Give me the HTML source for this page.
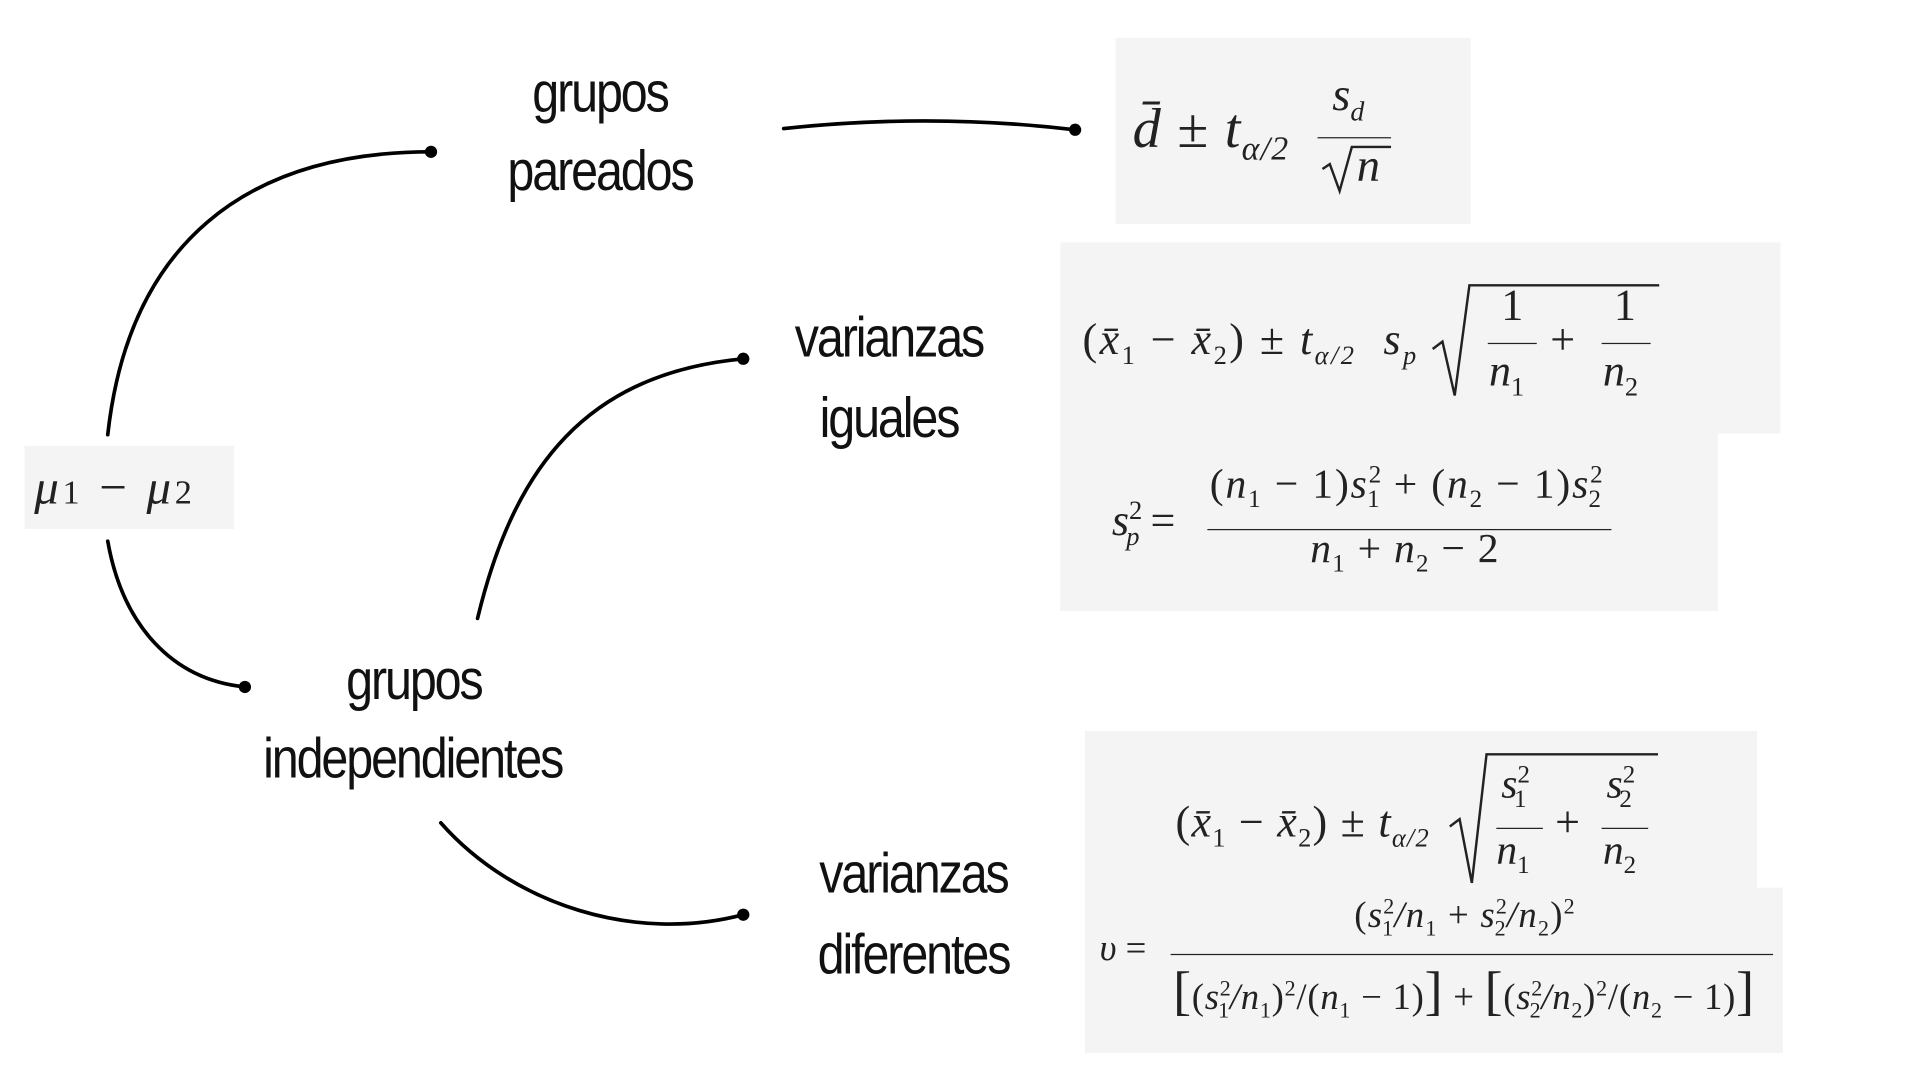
<!DOCTYPE html>
<html><head><meta charset="utf-8"><style>
html,body{margin:0;padding:0;background:#fff;overflow:hidden}
#w{position:absolute;left:0;top:0;width:1568px;height:882px;transform:scale(1.2245);transform-origin:0 0}
.b{position:absolute;background:#f4f4f4}
.t{position:absolute;font-family:"Liberation Sans",sans-serif;font-size:46px;color:#111;transform:scaleX(0.86);transform-origin:center;text-align:center;white-space:nowrap;letter-spacing:-2px}
.m{position:absolute;font-family:"Liberation Serif",serif;font-style:italic;color:#222;white-space:nowrap}
.r{font-style:normal}
.fr{position:absolute;border-top:1.5px solid #222}
sub,sup{font-size:60%}
</style></head><body><div id="w">
<div class="b" style="left:20px;top:364px;width:171px;height:68px"></div>
<div class="b" style="left:911px;top:31px;width:290px;height:152px"></div>
<div class="b" style="left:866px;top:198px;width:588px;height:156px"></div>
<div class="b" style="left:866px;top:354px;width:537px;height:145px"></div>
<div class="b" style="left:886px;top:597px;width:549px;height:128px"></div>
<div class="b" style="left:886px;top:725px;width:570px;height:135px"></div>

<svg style="position:absolute;left:0;top:0" width="1568" height="882">
<g fill="none" stroke="#000" stroke-width="3" stroke-linecap="round">
<path d="M88,355 C105,200 200,124 352,124"/>
<path d="M88,442 C100,510 140,555 200,561"/>
<path d="M640,105 Q760,92 878,106"/>
<path d="M390,505 C420,380 480,305 607,293"/>
<path d="M360,672 C420,740 520,770 607,747"/>
</g>
<g fill="#000"><circle cx="352" cy="124" r="5"/><circle cx="200" cy="561" r="5"/><circle cx="878" cy="106" r="5"/><circle cx="607" cy="293" r="5"/><circle cx="607" cy="747" r="5"/></g>
<path d="M1170,285 l8,-6 l10,44 l12,-90 h155" fill="none" stroke="#222" stroke-width="2"/>
<path d="M1184,675 l8,-6 l10,52 l12,-105 h140" fill="none" stroke="#222" stroke-width="2"/>
<path d="M1080,138 l6,-4 l8,22 l10,-36 h32" fill="none" stroke="#222" stroke-width="2"/>
</svg>

<div class="t" style="left:390px;top:48px;width:200px">grupos</div>
<div class="t" style="left:390px;top:112px;width:200px">pareados</div>
<div class="t" style="left:626px;top:248px;width:200px">varianzas</div>
<div class="t" style="left:626px;top:314px;width:200px">iguales</div>
<div class="t" style="left:238px;top:528px;width:200px">grupos</div>
<div class="t" style="left:187px;top:592px;width:300px">independientes</div>
<div class="t" style="left:646px;top:686px;width:200px">varianzas</div>
<div class="t" style="left:646px;top:752px;width:200px">diferentes</div>

<div class="m" style="left:28px;top:374px;font-size:40px;letter-spacing:3px">μ<span class="r" style="font-size:28px">1</span> <span class="r">−</span> μ<span class="r" style="font-size:28px">2</span></div>

<div class="m" style="left:925px;top:78px;font-size:46px;letter-spacing:1px">d̄ <span class="r">±</span> t<sub>α/2</sub></div>
<div class="m" style="left:1088px;top:56px;font-size:38px">s<sub>d</sub></div>
<div class="fr" style="left:1076px;top:112px;width:60px"></div>
<div class="m" style="left:1108px;top:114px;font-size:38px">n</div>

<div class="m" style="left:884px;top:256px;font-size:36px;letter-spacing:2px"><span class="r">(</span>x̄<sub class="r">1</sub> <span class="r">−</span> x̄<sub class="r">2</sub><span class="r">) ±</span> t<sub>α/2</sub> &nbsp;s<sub>p</sub></div>
<div class="m r" style="left:1226px;top:228px;font-size:36px">1</div>
<div class="fr" style="left:1215px;top:280px;width:40px"></div>
<div class="m" style="left:1216px;top:282px;font-size:36px">n<sub class="r">1</sub></div>
<div class="m r" style="left:1266px;top:256px;font-size:36px">+</div>
<div class="m r" style="left:1318px;top:228px;font-size:36px">1</div>
<div class="fr" style="left:1308px;top:280px;width:40px"></div>
<div class="m" style="left:1309px;top:282px;font-size:36px">n<sub class="r">2</sub></div>

<div class="m" style="left:908px;top:404px;font-size:36px">s<sup class="r">2</sup><sub style="margin-left:-13px">p</sub> <span class="r">=</span></div>
<div class="m" style="left:988px;top:377px;font-size:34px;letter-spacing:1.5px"><span class="r">(</span>n<sub class="r">1</sub> <span class="r">− 1)</span>s<sup class="r">2</sup><sub class="r" style="margin-left:-13px">1</sub> <span class="r">+ (</span>n<sub class="r">2</sub> <span class="r">− 1)</span>s<sup class="r">2</sup><sub class="r" style="margin-left:-13px">2</sub></div>
<div class="fr" style="left:986px;top:432px;width:330px"></div>
<div class="m" style="left:1070px;top:430px;font-size:34px;letter-spacing:1px">n<sub class="r">1</sub> <span class="r">+</span> n<sub class="r">2</sub> <span class="r">− 2</span></div>

<div class="m" style="left:960px;top:650px;font-size:36px;letter-spacing:1px"><span class="r">(</span>x̄<sub class="r">1</sub> <span class="r">−</span> x̄<sub class="r">2</sub><span class="r">) ±</span> t<sub>α/2</sub></div>
<div class="m" style="left:1226px;top:622px;font-size:34px">s<sup class="r">2</sup><sub class="r" style="margin-left:-13px">1</sub></div>
<div class="fr" style="left:1222px;top:676px;width:38px"></div>
<div class="m" style="left:1222px;top:676px;font-size:34px">n<sub class="r">1</sub></div>
<div class="m r" style="left:1270px;top:650px;font-size:36px">+</div>
<div class="m" style="left:1312px;top:622px;font-size:34px">s<sup class="r">2</sup><sub class="r" style="margin-left:-13px">2</sub></div>
<div class="fr" style="left:1308px;top:676px;width:38px"></div>
<div class="m" style="left:1309px;top:676px;font-size:34px">n<sub class="r">2</sub></div>

<div class="m" style="left:898px;top:758px;font-size:30px">υ <span class="r">=</span></div>
<div class="m" style="left:1106px;top:730px;font-size:30px;letter-spacing:1px"><span class="r">(</span>s<sup class="r">2</sup><sub class="r" style="margin-left:-11px">1</sub>/n<sub class="r">1</sub> <span class="r">+</span> s<sup class="r">2</sup><sub class="r" style="margin-left:-11px">2</sub>/n<sub class="r">2</sub><span class="r">)<sup>2</sup></span></div>
<div class="fr" style="left:956px;top:779px;width:492px"></div>
<div class="m" style="left:958px;top:784px;font-size:30px;letter-spacing:0.6px"><span class="r" style="font-size:44px">[</span><span class="r">(</span>s<sup class="r">2</sup><sub class="r" style="margin-left:-11px">1</sub>/n<sub class="r">1</sub><span class="r">)<sup>2</sup>/(</span>n<sub class="r">1</sub> <span class="r">− 1)</span><span class="r" style="font-size:44px">]</span> <span class="r">+</span> <span class="r" style="font-size:44px">[</span><span class="r">(</span>s<sup class="r">2</sup><sub class="r" style="margin-left:-11px">2</sub>/n<sub class="r">2</sub><span class="r">)<sup>2</sup>/(</span>n<sub class="r">2</sub> <span class="r">− 1)</span><span class="r" style="font-size:44px">]</span></div>
</div></body></html>
